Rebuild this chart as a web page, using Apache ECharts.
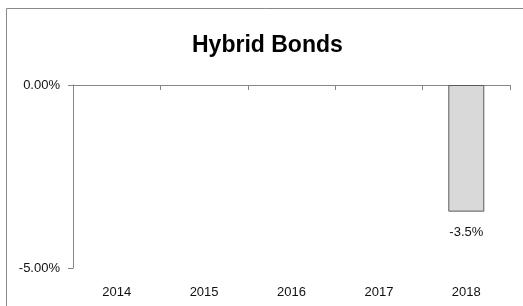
<!DOCTYPE html>
<html>
<head>
<meta charset="utf-8">
<script src="https://cdn.jsdelivr.net/npm/echarts@6/dist/echarts.min.js"></script>
<style>
html,body{margin:0;padding:0;background:#fff;}
#chart{width:523px;height:306px;}
</style>
</head>
<body>
<div id="chart"></div>
<script>
var title = 'Hybrid Bonds';
var categories = ['2014', '2015', '2016', '2017', '2018'];
var values = [null, null, null, null, -3.46];
var yMin = -5;
var yMax = 0;
var yInterval = 5;

var chart = echarts.init(document.getElementById('chart'), null, {renderer: 'canvas'});
var axisGrey = '#868686';
var font = 'Liberation Sans';
chart.setOption({
  animation: false,
  backgroundColor: '#fff',
  title: {
    text: title,
    left: 192,
    top: 34,
    padding: 0,
    textStyle: {fontFamily: font, fontWeight: 'bold', fontSize: 23, lineHeight: 23, color: '#000'}
  },
  graphic: [{
    type: 'rect',
    shape: {x: 6.5, y: 8.5, width: 540, height: 320},
    style: {fill: 'none', stroke: '#898989', lineWidth: 1},
    silent: true
  }],
  grid: {left: 73, right: 13, top: 85, bottom: 38, containLabel: false},
  xAxis: [{
    type: 'category',
    data: categories,
    position: 'top',
    boundaryGap: true,
    axisLine: {show: true, onZero: false, lineStyle: {color: axisGrey, width: 1}},
    axisTick: {show: true, inside: true, length: 5, lineStyle: {color: axisGrey}},
    axisLabel: {show: false},
    splitLine: {show: false}
  }, {
    type: 'category',
    data: categories,
    position: 'bottom',
    boundaryGap: true,
    axisLine: {show: false},
    axisTick: {show: false},
    axisLabel: {show: true, margin: 18, fontFamily: font, fontSize: 13, color: '#111'},
    splitLine: {show: false}
  }],
  yAxis: {
    type: 'value',
    min: yMin,
    max: yMax,
    interval: yInterval,
    axisLine: {show: true, lineStyle: {color: axisGrey, width: 1}},
    axisTick: {show: true, inside: false, length: 5, lineStyle: {color: axisGrey}},
    axisLabel: {
      margin: 13,
      fontFamily: font,
      fontSize: 13,
      color: '#111',
      formatter: function (v) { return v.toFixed(2) + '%'; }
    },
    splitLine: {show: false}
  },
  series: [{
    type: 'bar',
    xAxisIndex: 0,
    data: values,
    barWidth: 36,
    itemStyle: {color: '#d9d9d9', borderColor: '#595959', borderWidth: 1},
    label: {
      show: true,
      position: 'bottom',
      distance: 14,
      fontFamily: font,
      fontSize: 13,
      color: '#111',
      formatter: function (p) { return p.value == null ? '' : p.value.toFixed(1) + '%'; }
    }
  }]
});
</script>
</body>
</html>
